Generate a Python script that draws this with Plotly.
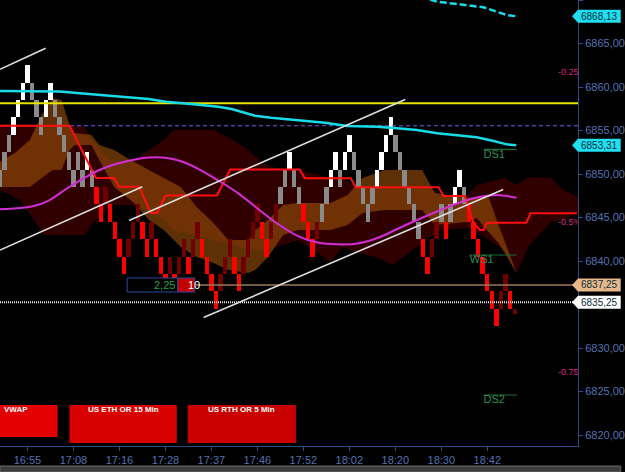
import plotly.graph_objects as go

# ---------------- data ----------------
tick_cols = [5, 15, 25, 35, 45, 55, 65, 75, 85, 95, 105]
tick_times = ["16:55", "17:08", "17:16", "17:28", "17:37", "17:46", "17:52", "18:02", "18:20", "18:30", "18:42"]
price_ticks = [6820, 6825, 6830, 6835, 6840, 6845, 6850, 6855, 6860, 6865, 6870]
hidden_tick_labels = [6835]

brick_first_col = -1
brick_low = [
    6848.5, 6850.5, 6852.5, 6854.5, 6856.5, 6858.5, 6860.5, 6858.5, 6856.5, 6854.5, 6856.5,
    6858.5, 6856.5, 6854.5, 6852.5, 6850.5, 6848.5, 6850.5, 6848.5, 6850.5, 6848.5,
    6846.5, 6844.5, 6846.5, 6844.5, 6842.5, 6840.5, 6838.5, 6840.5, 6842.5, 6844.5,
    6842.5, 6840.5, 6842.5, 6840.5, 6838.5, 6836.5, 6838.5, 6836.5, 6838.5, 6840.5,
    6838.5, 6840.5, 6842.5, 6840.5, 6838.5, 6836.5, 6834.5, 6836.5, 6838.5, 6840.5,
    6838.5, 6836.5, 6838.5, 6840.5, 6842.5, 6844.5, 6842.5, 6840.5, 6842.5, 6844.5,
    6846.5, 6848.5, 6850.5, 6848.5, 6846.5, 6844.5, 6842.5, 6840.5, 6842.5, 6844.5,
    6846.5, 6848.5, 6850.5, 6848.5, 6850.5, 6852.5, 6850.5, 6848.5, 6846.5, 6844.5,
    6846.5, 6848.5, 6850.5, 6852.5, 6854.5, 6852.5, 6850.5, 6848.5, 6846.5, 6844.5,
    6842.5, 6840.5, 6838.5, 6840.5, 6842.5, 6844.5, 6842.5, 6844.5, 6846.5, 6848.5,
    6846.5, 6844.5, 6842.5, 6840.5, 6838.5, 6836.5, 6834.5, 6832.5, 6834.5, 6836.5, 6834.5,
]
brick_kind = ("gggwwwwgggwwgggggggwg" "rrdrrrrddd" "rrdrrrdrdd" "rddrrrrddd" "rrddddrrdd"
              "ggwggrrrdg" "gwwgwwgggg" "gwwwwggggg" "grrddgrgww" "grrrrrrrdd" "r")
brick_size = 2.0
forming_col, forming_low, forming_high = 111, 6833.9, 6834.5

maroon_cols = [-0.97, 3.35, 8.75, 17.39, 18.90, 22.79, 27.11, 31.43, 34.67, 36.83, 45.46, 49.78, 53.02,
               56.70, 60.58, 63.82, 70.95, 73.54, 76.35, 80.67, 84.34, 88.01, 92.33, 95.14, 100.54,
               102.70, 108.75, 111.34, 114.15, 118.90, 121.49, 124.73]
maroon_top = [6855.52, 6855.52, 6855.52, 6855.52, 6853.91, 6851.61, 6851.26, 6852.76, 6853.91, 6855.06,
              6855.06, 6853.91, 6852.76, 6851.03, 6850.46, 6850.46, 6849.54, 6849.54, 6848.51, 6848.51,
              6848.51, 6848.51, 6848.51, 6847.47, 6847.47, 6848.74, 6849.54, 6848.74, 6849.66, 6849.54,
              6848.16, 6847.36]
maroon_bot = [6848.16, 6847.01, 6842.99, 6842.99, 6844.14, 6846.44, 6846.44, 6845.86, 6844.71, 6843.56,
              6842.41, 6841.84, 6841.26, 6841.26, 6841.84, 6842.41, 6839.89, 6841.61, 6841.03, 6840.46,
              6839.54, 6840.92, 6842.76, 6843.56, 6843.79, 6843.33, 6841.26, 6838.62, 6841.84, 6844.48,
              6844.71, 6845.52]

orange_cols = [-0.97, 2.27, 5.51, 8.10, 10.48, 12.42, 14.15, 15.23, 18.90, 20.63, 23.87, 28.19, 31.43,
               34.67, 38.34, 41.79, 45.46, 48.70, 53.02, 54.54, 57.34, 60.58, 63.82, 70.95, 74.62,
               77.86, 82.83, 90.82, 93.63, 100.54, 102.70, 105.29, 107.45, 109.18, 111.34]
orange_top = [6851.38, 6852.41, 6853.91, 6856.78, 6858.74, 6858.51, 6855.63, 6854.71, 6854.48, 6853.33,
              6852.76, 6851.38, 6850.46, 6849.54, 6848.51, 6846.21, 6844.37, 6842.41, 6842.41, 6843.56,
              6844.71, 6846.44, 6846.67, 6846.67, 6847.59, 6849.54, 6850.46, 6850.46, 6847.82, 6847.24,
              6847.36, 6847.36, 6844.14, 6841.72, 6838.62]
orange_bot = [6848.51, 6848.51, 6848.51, 6849.54, 6850.46, 6850.46, 6852.76, 6853.33, 6853.33, 6851.61,
              6848.51, 6846.67, 6844.71, 6843.56, 6841.61, 6840.46, 6839.77, 6838.97, 6838.62, 6838.97,
              6840.46, 6842.99, 6843.56, 6843.56, 6844.14, 6845.52, 6845.86, 6845.86, 6844.14, 6844.48,
              6844.94, 6843.33, 6842.07, 6840.57, 6838.62]

cyan_cols = [-0.97, 12.0, 22.8, 31.4, 35.1, 39.4, 42.2, 46.5, 49.4, 52.4, 54.5, 58.0, 63.8, 69.7, 74.6,
             81.1, 85.4, 89.7, 94.1, 98.4, 102.7, 106.4, 109.2, 111.3]
cyan_vals = [6859.54, 6859.48, 6859.0, 6858.62, 6858.31, 6858.05, 6857.95, 6857.74, 6857.47, 6857.01,
             6856.70, 6856.47, 6856.21, 6855.90, 6855.52, 6855.44, 6855.25, 6855.06, 6854.68, 6854.48,
             6854.22, 6853.79, 6853.41, 6853.31]
cyan2_cols = [90.5, 94.1, 98.4, 102.7, 104.2, 107.0, 109.2, 111.3]
cyan2_vals = [6870.4, 6869.8, 6869.54, 6869.31, 6869.16, 6868.66, 6868.28, 6868.13]

magenta_cols = [-0.97, 6.16, 9.83, 13.43, 17.02, 20.63, 24.23, 27.82, 31.43, 35.03, 38.62, 42.22, 46.54,
                50.86, 55.18, 59.50, 63.82, 68.14, 72.46, 76.78, 81.09, 85.42, 89.74, 94.06, 98.38,
                102.70, 107.02, 111.34]
magenta_vals = [6845.94, 6846.29, 6847.01, 6848.28, 6849.43, 6850.46, 6851.15, 6851.61, 6851.90, 6851.87,
                6851.44, 6850.57, 6849.25, 6847.78, 6845.98, 6844.25, 6842.87, 6842.13, 6841.92, 6842.01,
                6842.64, 6843.68, 6844.71, 6845.69, 6846.61, 6847.30, 6847.59, 6847.28]

redline_cols = [-0.97, 14.15, 19.9, 23.9, 24.9, 29.3, 31.8, 33.2, 35.0, 46.2, 49.1, 64.2, 65.3, 75.3, 76.4,
                94.4, 95.5, 100.1, 102.0, 103.4, 104.2, 104.9, 113.5, 114.4, 124.5]
redline_vals = [6855.55, 6855.55, 6849.54, 6849.54, 6848.54, 6848.54, 6845.52, 6845.52, 6847.53, 6847.53,
                6850.52, 6850.52, 6849.51, 6849.51, 6848.47, 6848.47, 6847.47, 6847.47, 6844.40, 6843.56,
                6843.56, 6844.40, 6844.40, 6845.48, 6845.48]

trend_start_cols = [-0.97, -0.97, 27.1, 43.3]
trend_start_vals = [6862.03, 6841.26, 6844.66, 6833.51]
trend_end_cols = [8.96, 29.98, 87.15, 108.47]
trend_end_vals = [6864.45, 6848.54, 6858.56, 6848.22]

yellow_level = 6858.13
dashed_level = 6855.55
order_level = 6837.25
order_from_col = 41.6
last_level = 6835.25

tag_values = [6868.13, 6853.31, 6837.25, 6835.25]
tag_labels = ["6868,13", "6853,31", "6837,25", "6835,25"]

pct_labels = ["-0.25%", "-0.5%", "-0.75%"]
pct_values = [6861.60, 6844.41, 6827.21]
pct_col = 120.4

pivot_labels = ["DS1", "WS1", "DS2"]
pivot_values = [6852.84, 6840.69, 6824.60]
pivot_start = [104.2, 101.2, 104.2]
pivot_end = [111.4, 111.4, 111.4]

order_qty = "2,25"
order_count = "10"
buttons = ["VWAP", "US ETH OR 15 Min", "US RTH OR 5 Min"]

# ---------------- figure ----------------
X_RANGE = [-0.97, 124.73]
Y_RANGE = [6818.74, 6870.0]
PW, PH = 582.0, 446.0
FONT = "Liberation Sans, Arial, sans-serif"


def pxx(p):
    return p / PW


def pxy(p):
    return 1 - p / PH


fig = go.Figure()
shapes = []
annotations = []


def band_path(xs, top, bot):
    pts = [f"{x},{y}" for x, y in zip(xs, top)] + [f"{x},{y}" for x, y in zip(xs[::-1], bot[::-1])]
    return "M " + " L ".join(pts) + " Z"


# clouds (below all traces)
shapes.append(dict(type="path", xref="x", yref="y", path=band_path(maroon_cols, maroon_top, maroon_bot),
                   fillcolor="rgb(48,0,0)", line=dict(width=0), layer="below"))
shapes.append(dict(type="path", xref="x", yref="y", path=band_path(orange_cols, orange_top, orange_bot),
                   fillcolor="rgba(155,82,8,0.6)", line=dict(width=0), layer="below"))

# bricks
kind_color = {"w": "#ffffff", "g": "#8a8a8a", "r": "#ff0000", "d": "#700000"}
cols = [brick_first_col + i for i in range(len(brick_low))]
fig.add_trace(go.Bar(x=cols + [forming_col], y=[brick_size] * len(cols) + [forming_high - forming_low],
                     base=brick_low + [forming_low], width=0.96,
                     marker=dict(color=[kind_color[k] for k in brick_kind] + [kind_color["d"]], line=dict(width=0)),
                     hoverinfo="skip"))


def hline(level, color, width, dash="solid", x0=X_RANGE[0]):
    fig.add_trace(go.Scatter(x=[x0, X_RANGE[1]], y=[level, level], mode="lines",
                             line=dict(color=color, width=width, dash=dash), hoverinfo="skip"))


hline(dashed_level, "#6a5ce6", 1.2, "4px,3px")
hline(yellow_level, "#e4e400", 2)
hline(order_level, "#9a7858", 1.5, x0=order_from_col)
hline(last_level, "#e8e8e8", 2, "1px,1px")

fig.add_trace(go.Scatter(x=redline_cols, y=redline_vals, mode="lines", line=dict(color="#ff1010", width=2),
                         hoverinfo="skip"))
fig.add_trace(go.Scatter(x=magenta_cols, y=magenta_vals, mode="lines",
                         line=dict(color="#d22ed6", width=2, shape="spline"), hoverinfo="skip"))
fig.add_trace(go.Scatter(x=cyan_cols, y=cyan_vals, mode="lines", line=dict(color="#18dbe8", width=2.5),
                         hoverinfo="skip"))
fig.add_trace(go.Scatter(x=cyan2_cols, y=cyan2_vals, mode="lines",
                         line=dict(color="#18dbe8", width=2.5, dash="7px,3px"), hoverinfo="skip"))
tx, ty = [], []
for a, b, c, d in zip(trend_start_cols, trend_start_vals, trend_end_cols, trend_end_vals):
    tx += [a, c, None]
    ty += [b, d, None]
fig.add_trace(go.Scatter(x=tx, y=ty, mode="lines", line=dict(color="#dedede", width=1.6), hoverinfo="skip"))

pvx, pvy = [], []
for s, e, v in zip(pivot_start, pivot_end, pivot_values):
    pvx += [s, e, None]
    pvy += [v, v, None]
fig.add_trace(go.Scatter(x=pvx, y=pvy, mode="lines", line=dict(color="#1f6b3c", width=1.2), hoverinfo="skip"))
fig.add_trace(go.Scatter(x=pivot_start, y=pivot_values, mode="text", text=pivot_labels, textposition="bottom right",
                         textfont=dict(color="#2f8f55", size=11, family=FONT), hoverinfo="skip"))

fig.add_trace(go.Scatter(x=[pct_col] * len(pct_values), y=pct_values, mode="text", text=pct_labels,
                         textposition="middle right", cliponaxis=True,
                         textfont=dict(color="#d8287c", size=9, family=FONT), hoverinfo="skip"))

# price tags on the axis
tag_fill = ["#1ee0f0", "#1ee0f0", "#e6b98c", "#ffffff"]
half = 6.5 / 8.7
for v, lab, col in zip(tag_values, tag_labels, tag_fill):
    shapes.append(dict(type="path", xref="paper", yref="y",
                       path=f"M {pxx(576)},{v} L {pxx(582)},{v + half} L {pxx(625)},{v + half} "
                            f"L {pxx(625)},{v - half} L {pxx(582)},{v - half} Z",
                       fillcolor=col, line=dict(width=0), layer="above"))
    annotations.append(dict(xref="paper", yref="y", x=pxx(604), y=v, text=lab, showarrow=False,
                            font=dict(size=10, color="#0c2c38", family=FONT), xanchor="center", yanchor="middle"))

# order box
shapes.append(dict(type="rect", xref="paper", yref="paper", x0=pxx(128), x1=pxx(179), y0=pxy(292), y1=pxy(278),
                   fillcolor="black", line=dict(color="#2c48a0", width=1), layer="above"))
shapes.append(dict(type="rect", xref="paper", yref="paper", x0=pxx(179), x1=pxx(196), y0=pxy(292), y1=pxy(278),
                   fillcolor="#c40000", line=dict(color="#2c48a0", width=1), layer="above"))
annotations.append(dict(xref="paper", yref="paper", x=pxx(153.5), y=pxy(285), text=order_qty, showarrow=False,
                        font=dict(size=11, color="#24a046", family=FONT)))
annotations.append(dict(xref="paper", yref="paper", x=pxx(187.5), y=pxy(285), text=order_count, showarrow=False,
                        font=dict(size=11, color="#ffffff", family=FONT)))

# buttons
btn_geo = [(0, 58, 405, 437, "#e40000", "left"), (70, 178, 405, 443, "#d80000", "center"),
           (189, 298, 405, 443, "#c80000", "center")]
for (x0, x1, y0, y1, colr, anch), label in zip(btn_geo, buttons):
    shapes.append(dict(type="rect", xref="paper", yref="paper", x0=pxx(x0), x1=pxx(x1), y0=pxy(y1), y1=pxy(y0),
                       fillcolor=colr, line=dict(width=0), layer="above"))
    annotations.append(dict(xref="paper", yref="paper",
                            x=pxx(x0 + 2) if anch == "left" else pxx((x0 + x1) / 2), y=pxy(409),
                            xanchor=anch, yanchor="middle", text=f"<b>{label}</b>", showarrow=False,
                            font=dict(size=8, color="#ffffff", family=FONT)))

shapes.append(dict(type="rect", xref="paper", yref="paper", x0=0, x1=pxx(625), y0=pxy(472), y1=pxy(466),
                   fillcolor="#3c3c3c", line=dict(color="#6a6a6a", width=1)))

fig.update_layout(
    width=625, height=472, margin=dict(l=0, r=43, t=0, b=26),
    paper_bgcolor="black", plot_bgcolor="black", showlegend=False,
    barmode="overlay", bargap=0, shapes=shapes, annotations=annotations,
    xaxis=dict(range=X_RANGE, tickvals=tick_cols, ticktext=tick_times, showgrid=False, zeroline=False,
               showline=True, linecolor="#2d4a85", linewidth=1, ticks="outside", ticklen=4, tickcolor="#2d4a85",
               tickfont=dict(size=11, color="#5472b0", family=FONT), fixedrange=True),
    yaxis=dict(range=Y_RANGE, side="right", tickvals=price_ticks,
               ticktext=["" if p in hidden_tick_labels else f"{p:.2f}".replace(".", ",") for p in price_ticks],
               showgrid=False, zeroline=False, showline=True, linecolor="#2d4a85", linewidth=1,
               ticks="outside", ticklen=4, tickcolor="#2d4a85",
               tickfont=dict(size=11, color="#5472b0", family=FONT), fixedrange=True),
)

fig.write_html("out.html")
